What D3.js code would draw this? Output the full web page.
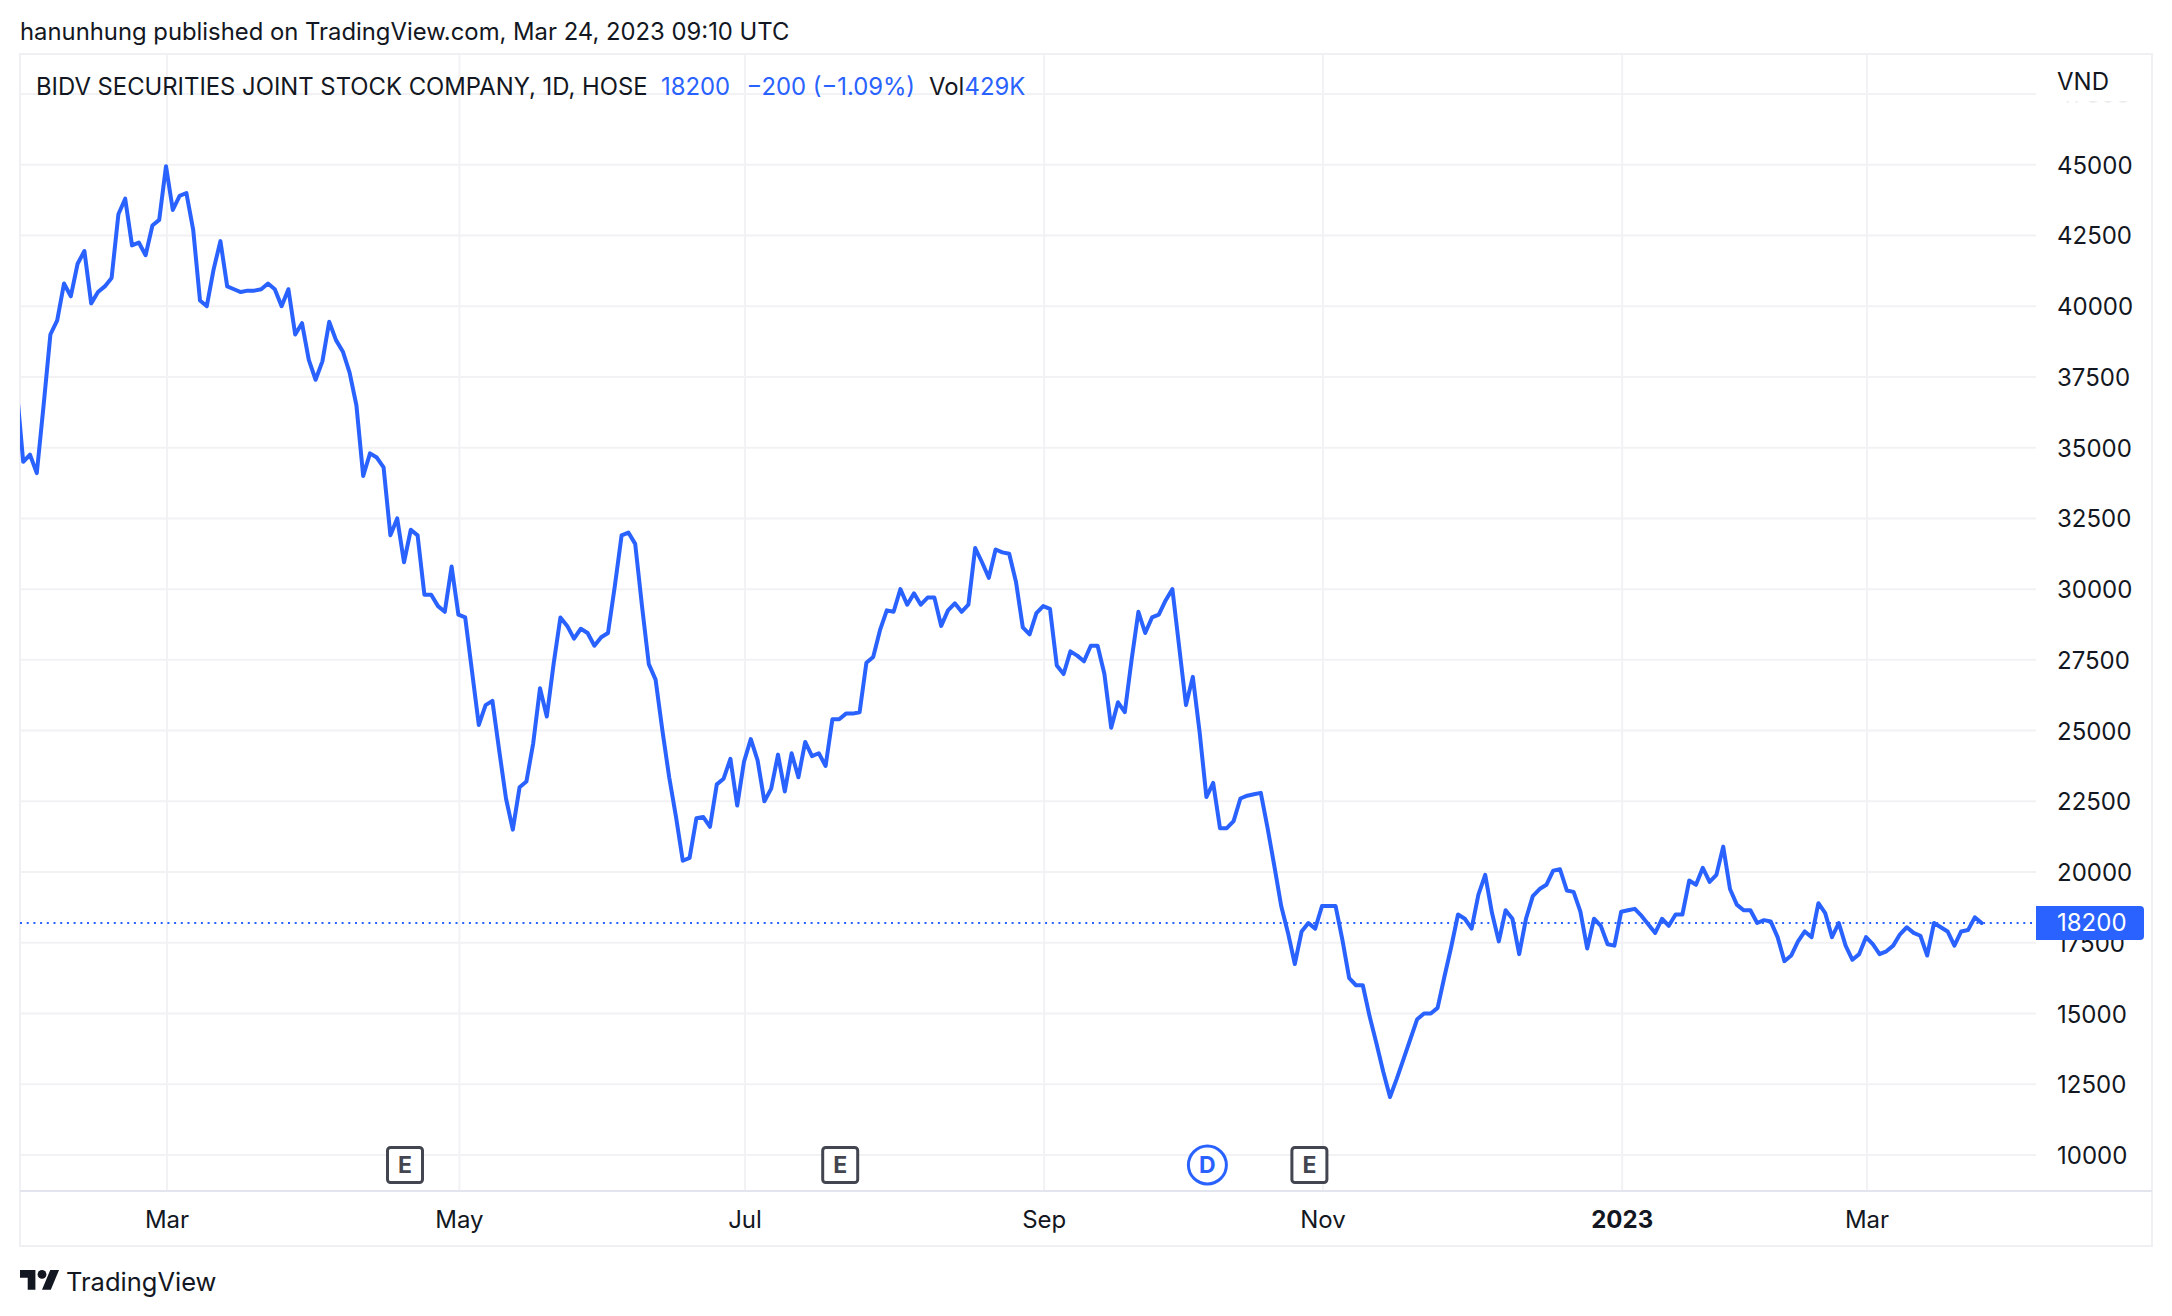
<!DOCTYPE html>
<html lang="en">

<head>
    <meta charset="UTF-8">
    <title>BIDV Securities, 1D, HOSE</title>
    <script src="https://cdn.jsdelivr.net/npm/d3@7"></script>
    <style>
        html, body { margin: 0; background: #fff; }
        svg { display: block; }
        text { font-family: Inter, "Noto Sans", sans-serif; fill: #131722; }
    </style>
</head>

<body>
</body>
<script>
    //Daily closes in VND, one per session. Session 0 is the first session of March 2022
    const firstSession = -22;
    const closes = [
        37200, 34500, 34750, 34100, 36500, 39000, 39500, 40800, 40350, 41500, 41950,
        40100, 40500, 40700, 41000, 43250, 43800, 42150, 42250, 41800, 42850, 43050,
        44950, 43400, 43900, 44000, 42700, 40200, 40000, 41300, 42300, 40700, 40600,
        40500, 40550, 40550, 40600, 40800, 40600, 40000, 40600, 39000, 39400, 38100,
        37400, 38050, 39450, 38800, 38400, 37650, 36500, 34000, 34800, 34650, 34300,
        31900, 32500, 30950, 32100, 31900, 29800, 29800, 29400, 29200, 30800, 29100,
        29000, 27100, 25200, 25900, 26050, 24300, 22600, 21500, 23000, 23200, 24550,
        26500, 25500, 27350, 29000, 28700, 28250, 28600, 28450, 28000, 28300, 28450,
        30100, 31900, 32000, 31600, 29400, 27350, 26800, 25000, 23350, 21950, 20400,
        20500, 21900, 21950, 21600, 23100, 23300, 24000, 22350, 23900, 24700, 23950,
        22500, 22950, 24150, 22850, 24200, 23350, 24600, 24100, 24200, 23750, 25400,
        25400, 25600, 25600, 25650, 27400, 27600, 28550, 29250, 29200, 30000, 29450,
        29850, 29450, 29700, 29700, 28700, 29250, 29500, 29200, 29450, 31450, 30950,
        30400, 31400, 31300, 31250, 30250, 28650, 28400, 29150, 29400, 29300, 27300,
        27000, 27800, 27650, 27450, 28000, 28000, 27000, 25100, 26000, 25650, 27500,
        29200, 28450, 29000, 29100, 29600, 30000, 27950, 25900, 26900, 24950, 22650,
        23150, 21550, 21550, 21800, 22600, 22700, 22750, 22800, 21550, 20200, 18800,
        17850, 16750, 17900, 18200, 18000, 18800, 18800, 18800, 17600, 16250, 16000,
        16000, 14900, 13950, 12950, 12050, 12700, 13400, 14100, 14800, 15000, 15000,
        15200, 16300, 17350, 18500, 18350, 18000, 19200, 19900, 18550, 17550, 18650,
        18350, 17100, 18350, 19150, 19400, 19550, 20050, 20100, 19350, 19300, 18600,
        17300, 18350, 18100, 17450, 17400, 18600, 18650, 18700, 18450, 18150, 17850,
        18350, 18100, 18500, 18500, 19700, 19550, 20150, 19650, 19900, 20900, 19400,
        18850, 18650, 18650, 18200, 18300, 18250, 17700, 16850, 17050, 17550, 17900,
        17700, 18900, 18550, 17700, 18200, 17400, 16900, 17100, 17700, 17450, 17100,
        17200, 17400, 17800, 18050, 17850, 17750, 17050, 18200, 18050, 17900, 17400,
        17900, 17950, 18400, 18200
    ];

    const priceTicks = [10000, 12500, 15000, 17500, 20000, 22500, 25000, 27500, 30000,
        32500, 35000, 37500, 40000, 42500, 45000, 47500];

    const monthLabels = ["Mar", "May", "Jul", "Sep", "Nov", "2023", "Mar"];
    const monthSessions = [0, 43, 85, 129, 170, 214, 250];

    const markerTypes = ["E", "E", "D", "E"];
    const markerSessions = [35, 99, 153, 168];

    const lastPrice = 18200;
    const legendTexts = ["BIDV SECURITIES JOINT STOCK COMPANY, 1D, HOSE", "18200", "\u2212200 (\u22121.09%)", "Vol", "429K"];
    const legendColors = ["#131722", "#2962ff", "#2962ff", "#131722", "#2962ff"];
    const legendLefts = [36, 661, 746.5, 929, 964.5];

    const width = 2172;
    const height = 1316;
    const frame = { left: 20, right: 2152, top: 54, bottom: 1246 };
    const plotRight = 2036;
    const plotBottom = 1191;

    const blue = "#2962ff";

    //Append an svg canvas to the body
    const svg = d3.select("body")
        .append("svg")
        .attr("viewBox", [0, 0, width, height])
        .attr("width", width)
        .attr("height", height);

    svg.append("text")
        .attr("x", 20)
        .attr("y", 31)
        .attr("dominant-baseline", "central")
        .attr("font-size", 23.83)
        .text("hanunhung published on TradingView.com, Mar 24, 2023 09:10 UTC");

    //One session is 6.8px, session 0 sits at x=167
    const x = d3.scaleLinear().domain([0, 250]).range([167, 1867]);
    const y = d3.scaleLinear().domain([10000, 47500]).range([1155, 94]);

    svg.append("defs").append("clipPath")
        .attr("id", "plot")
        .append("rect")
        .attr("x", frame.left)
        .attr("y", frame.top)
        .attr("width", plotRight - frame.left)
        .attr("height", plotBottom - frame.top);

    //Horizontal grid and price labels come from the same axis
    const yAxis = svg.append("g")
        .attr("transform", `translate(${plotRight},0)`)
        .call(d3.axisRight(y).tickValues(priceTicks).tickSize(0).offset(0).tickFormat(d3.format("d")));
    yAxis.select(".domain").remove();
    yAxis.selectAll("text")
        .attr("x", 21)
        .attr("y", 0.5)
        .attr("dy", null)
        .attr("dominant-baseline", "central")
        .attr("font-size", 24)
        .attr("font-family", null)
        .attr("fill", "#131722");
    yAxis.selectAll(".tick").append("line")
        .attr("x1", frame.left - plotRight)
        .attr("x2", 0)
        .attr("stroke", "#f2f2f5")
        .attr("stroke-width", 2);

    //Vertical grid and month labels
    const xAxis = svg.append("g")
        .attr("transform", `translate(0,${plotBottom})`)
        .call(d3.axisBottom(x).tickValues(monthSessions).tickSize(0).offset(0).tickFormat((d, i) => monthLabels[i]));
    xAxis.select(".domain").remove();
    xAxis.selectAll("text")
        .attr("y", 28.5)
        .attr("dy", null)
        .attr("dominant-baseline", "central")
        .attr("font-size", 24)
        .attr("font-family", null)
        .attr("font-weight", (d, i) => monthLabels[i] === "2023" ? 700 : 400)
        .attr("fill", "#131722");
    xAxis.selectAll(".tick").append("line")
        .attr("y1", frame.top - plotBottom)
        .attr("y2", 0)
        .attr("stroke", "#f2f2f5")
        .attr("stroke-width", 2);

    //Chart frame and the time axis line
    svg.append("rect")
        .attr("x", frame.left)
        .attr("y", frame.top)
        .attr("width", frame.right - frame.left)
        .attr("height", frame.bottom - frame.top)
        .attr("fill", "none")
        .attr("stroke", "#f0f0f4")
        .attr("stroke-width", 2);
    svg.append("line")
        .attr("x1", frame.left)
        .attr("x2", frame.right)
        .attr("y1", plotBottom)
        .attr("y2", plotBottom)
        .attr("stroke", "#e2e4ee")
        .attr("stroke-width", 2);

    //Last price line
    svg.append("line")
        .attr("x1", frame.left)
        .attr("x2", plotRight)
        .attr("y1", y(lastPrice))
        .attr("y2", y(lastPrice))
        .attr("stroke", blue)
        .attr("stroke-width", 2)
        .attr("stroke-dasharray", "2 4.7");

    //The line sits a pixel left of its session tick in the reference
    const line = d3.line()
        .x((d, i) => x(firstSession + i) - 1)
        .y(d => y(d));

    svg.append("path")
        .datum(closes)
        .attr("clip-path", "url(#plot)")
        .attr("fill", "none")
        .attr("stroke", blue)
        .attr("stroke-width", 4)
        .attr("stroke-linejoin", "round")
        .attr("stroke-linecap", "round")
        .attr("d", line);

    //Earnings and dividend flags on the bottom of the pane
    const markers = svg.append("g")
        .selectAll("g")
        .data(markerTypes)
        .join("g")
        .attr("transform", (d, i) => `translate(${x(markerSessions[i])},1165)`);
    markers.filter(d => d === "E").append("rect")
        .attr("x", -17.5)
        .attr("y", -17.5)
        .attr("width", 35)
        .attr("height", 35)
        .attr("rx", 3)
        .attr("fill", "#fff")
        .attr("stroke", "#434651")
        .attr("stroke-width", 3);
    markers.filter(d => d === "D").append("circle")
        .attr("r", 19)
        .attr("fill", "#fff")
        .attr("stroke", blue)
        .attr("stroke-width", 3);
    markers.append("text")
        .attr("text-anchor", "middle")
        .attr("dominant-baseline", "central")
        .attr("font-size", 23)
        .attr("font-weight", 700)
        .style("fill", d => d === "D" ? blue : "#434651")
        .text(d => d);

    //The topmost price label fades out under the currency
    svg.append("rect")
        .attr("x", plotRight + 2)
        .attr("y", frame.top + 1)
        .attr("width", frame.right - plotRight - 3)
        .attr("height", 46)
        .attr("fill", "#fff");
    svg.append("rect")
        .attr("x", plotRight + 2)
        .attr("y", frame.top + 47)
        .attr("width", frame.right - plotRight - 3)
        .attr("height", 6)
        .attr("fill", "#fff")
        .attr("opacity", 0.93);
    svg.append("text")
        .attr("x", plotRight + 21)
        .attr("y", 81)
        .attr("dominant-baseline", "central")
        .attr("font-size", 24)
        .text("VND");

    //Price tag
    svg.append("path")
        .attr("d", `M${plotRight},${y(lastPrice) - 17}H2140a4,4 0 0 1 4,4V${y(lastPrice) + 13}a4,4 0 0 1 -4,4H${plotRight}Z`)
        .attr("fill", blue);
    svg.append("text")
        .attr("x", plotRight + 21)
        .attr("y", y(lastPrice))
        .attr("dominant-baseline", "central")
        .attr("font-size", 24)
        .style("fill", "#fff")
        .text(d3.format("d")(lastPrice));

    //Legend
    svg.append("g")
        .selectAll("text")
        .data(legendTexts)
        .join("text")
        .attr("x", (d, i) => legendLefts[i])
        .attr("y", 86)
        .attr("dominant-baseline", "central")
        .attr("font-size", 23.83)
        .style("fill", (d, i) => legendColors[i])
        .text(d => d);

    //TradingView logo
    svg.append("g")
        .attr("transform", "translate(20,1265.6) scale(1.1)")
        .attr("fill", "#131722")
        .call(g => g.append("path").attr("d", "M14 22H7V11H0V4h14v18zM28 22h-8l7.5-18h8L28 22z"))
        .call(g => g.append("circle").attr("cx", 20).attr("cy", 8).attr("r", 4));
    svg.append("text")
        .attr("x", 66)
        .attr("y", 1281.5)
        .attr("dominant-baseline", "central")
        .attr("font-size", 25.5)
        .text("TradingView");
</script>

</html>
